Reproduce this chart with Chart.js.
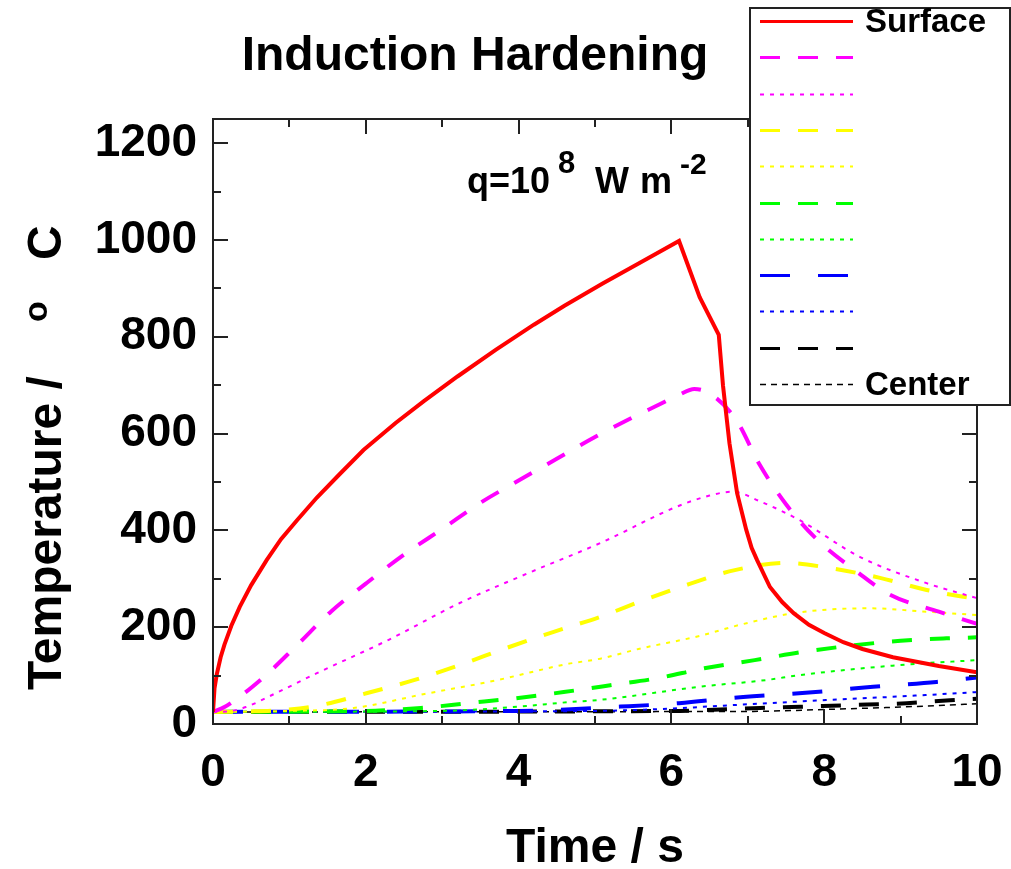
<!DOCTYPE html>
<html><head><meta charset="utf-8">
<script src="https://cdn.jsdelivr.net/npm/chart.js@4/dist/chart.umd.min.js"></script>
<style>html,body{margin:0;padding:0;background:#fff;}canvas{display:block;}</style>
</head><body>
<canvas id="c" width="1011" height="869"></canvas>
<script>
// ---- data (time in s, temperature in °C) ----
const chartTitle = "Induction Hardening";
const xTickValues = [0, 2, 4, 6, 8, 10];
const yTickValues = [0, 200, 400, 600, 800, 1000, 1200];
const legendLabels = ["Surface", "", "", "", "", "", "", "", "", "", "Center"];

const tSurface = [0, 0.02, 0.05, 0.1, 0.15, 0.24, 0.35, 0.5, 0.7, 0.89, 1.1, 1.36, 1.65, 1.97, 2.39, 2.76, 3.2, 3.7, 4.2, 4.6, 5.1, 5.6, 6.1, 6.37, 6.62, 6.675, 6.76, 6.86, 6.98, 7.05, 7.12, 7.29, 7.45, 7.6, 7.8, 8.0, 8.25, 8.5, 8.9, 9.5, 10];
const ySurface = [25, 74, 103, 138, 164, 203, 242, 287, 338, 382, 421, 468, 515, 566, 622, 667, 718, 773, 825, 864, 910, 954, 998, 882, 804, 700, 580, 477, 401, 364, 339, 283, 252, 229, 205, 188, 169, 155, 138, 120, 107];

const tMagDash = [0, 0.15, 0.65, 1.1, 1.55, 2.0, 2.5, 3.0, 3.5, 4.0, 4.5, 5.0, 5.5, 5.8, 6.1, 6.3, 6.5, 6.85, 7.15, 7.5, 7.9, 8.45, 8.85, 9.5, 10];
const yMagDash = [25, 35, 95, 163, 233, 290, 350, 403, 457, 503, 548, 593, 634, 657, 680, 692, 683, 628, 537, 454, 382, 312, 268, 232, 207];

const tMagDot = [0, 0.2, 0.43, 0.8, 1.36, 2.3, 3.23, 4.16, 5.1, 6.04, 6.5, 6.8, 7.16, 7.68, 8.47, 9.34, 10];
const yMagDot = [25, 26, 35, 62, 105, 174, 250, 314, 376, 447, 472, 480, 460, 421, 345, 291, 260];

const tYelDash = [0, 0.5, 1.0, 1.41, 2.02, 2.64, 3.23, 3.84, 4.45, 5.06, 5.64, 6.23, 6.83, 7.5, 8.08, 8.73, 9.34, 10];
const yYelDash = [25, 26, 30, 39, 64, 91, 122, 157, 190, 221, 256, 289, 318, 333, 322, 302, 277, 258];

const tYelDot = [0, 1.0, 1.84, 2.77, 3.7, 4.64, 5.07, 5.57, 6.37, 6.9, 7.6, 8.1, 8.6, 9.34, 10];
const yYelDot = [25, 27, 33, 62, 90, 124, 135, 155, 182, 205, 229, 237, 239, 232, 225];

const tGrnDash = [0, 2.0, 2.72, 3.33, 3.95, 4.59, 5.2, 5.83, 6.43, 7.09, 7.68, 8.3, 9.0, 9.6, 10];
const yGrnDash = [25, 27, 33, 43, 53, 66, 80, 95, 115, 132, 148, 161, 172, 177, 179];

const tGrnDot = [0, 3.0, 4.0, 4.64, 5.07, 6.37, 7.25, 7.68, 9.0, 10];
const yGrnDot = [25, 27, 36, 45, 50, 77, 91, 101, 122, 132];

const tBluDash = [0, 4.0, 5.33, 6.1, 6.94, 7.8, 8.64, 9.47, 10];
const yBluDash = [25, 27, 36, 43, 56, 65, 77, 87, 96];

const tBluDot = [0, 5.0, 6.0, 6.8, 8.1, 9.0, 10];
const yBluDot = [25, 27, 32, 39, 50, 57, 66];

const tBlkDash = [0, 6.0, 7.16, 8.34, 9.08, 9.65, 10];
const yBlkDash = [25, 27, 33, 39, 43, 49, 52];

const tCenter = [0, 7.0, 8.0, 9.0, 10];
const yCenter = [25, 26, 30, 35, 42];

function pts(ts, ys) { return ts.map((t, i) => ({ x: t, y: ys[i] })); }

const FONT = "'Liberation Sans', Arial, Helvetica, sans-serif";
Chart.defaults.font.family = FONT;

const DASH = [20, 18], DASH_B = [30, 28], DOT = [4, 6], CEN = [6, 5];

function ds(label, ts, ys, color, width, dash, smooth) {
  return {
    label: label, data: pts(ts, ys), borderColor: color, backgroundColor: color,
    borderWidth: width, borderDash: dash, pointRadius: 0, fill: false,
    tension: 0, cubicInterpolationMode: smooth ? 'monotone' : 'default'
  };
}

const datasets = [
  ds(legendLabels[0], tSurface, ySurface, '#ff0000', 4, [], false),
  ds(legendLabels[1], tMagDash, yMagDash, '#ff00ff', 4, DASH, true),
  ds(legendLabels[2], tMagDot, yMagDot, '#ff00ff', 2, DOT, true),
  ds(legendLabels[3], tYelDash, yYelDash, '#ffff00', 4, DASH, true),
  ds(legendLabels[4], tYelDot, yYelDot, '#ffff00', 2, DOT, true),
  ds(legendLabels[5], tGrnDash, yGrnDash, '#00ff00', 4, DASH, true),
  ds(legendLabels[6], tGrnDot, yGrnDot, '#00ff00', 2, DOT, true),
  ds(legendLabels[7], tBluDash, yBluDash, '#0000ff', 4, DASH_B, true),
  ds(legendLabels[8], tBluDot, yBluDot, '#0000ff', 2, DOT, true),
  ds(legendLabels[9], tBlkDash, yBlkDash, '#000000', 4, DASH, true),
  ds(legendLabels[10], tCenter, yCenter, '#000000', 1.5, CEN, true)
];

const decor = {
  id: 'decor',
  afterDraw(chart) {
    const ctx = chart.ctx, a = chart.chartArea;
    const xs = chart.scales.x, ys = chart.scales.y;
    ctx.save();
    // frame
    ctx.strokeStyle = '#222'; ctx.lineWidth = 2; ctx.setLineDash([]);
    ctx.strokeRect(a.left, a.top, a.right - a.left, a.bottom - a.top);
    // inward ticks on all four sides
    ctx.beginPath();
    for (let v = 0; v <= 10; v += 1) {
      const px = Math.round(xs.getPixelForValue(v));
      const L = (v % 2 === 0) ? 15 : 8;
      ctx.moveTo(px, a.bottom); ctx.lineTo(px, a.bottom - L);
      ctx.moveTo(px, a.top); ctx.lineTo(px, a.top + L);
    }
    for (let v = 0; v <= 1200; v += 100) {
      const py = Math.round(ys.getPixelForValue(v));
      const L = (v % 200 === 0) ? 15 : 8;
      ctx.moveTo(a.left, py); ctx.lineTo(a.left + L, py);
      ctx.moveTo(a.right, py); ctx.lineTo(a.right - L, py);
    }
    ctx.stroke();

    ctx.fillStyle = '#000';
    // title
    ctx.font = 'bold 48px ' + FONT;
    ctx.textAlign = 'center'; ctx.textBaseline = 'alphabetic';
    ctx.fillText(chartTitle, 475, 70);
    // x title
    ctx.fillText('Time / s', 595, 862);
    // y title (rotated)
    ctx.save();
    ctx.translate(61, 690); ctx.rotate(-Math.PI / 2);
    ctx.textAlign = 'left';
    ctx.font = 'bold 48px ' + FONT;
    ctx.fillText('Temperature /', 0, 0);
    ctx.font = 'bold 34px ' + FONT;
    ctx.fillText('o', 368, -14);
    ctx.font = 'bold 48px ' + FONT;
    ctx.fillText('C', 430, 0);
    ctx.restore();
    // annotation q=10^8 W m^-2
    ctx.textAlign = 'left';
    ctx.font = 'bold 36px ' + FONT;
    ctx.fillText('q=10', 467, 193);
    ctx.font = 'bold 31px ' + FONT;
    ctx.fillText('8', 558, 173);
    ctx.font = 'bold 36px ' + FONT;
    ctx.fillText('W', 595, 193);
    ctx.fillText('m', 640, 193);
    ctx.font = 'bold 30px ' + FONT;
    ctx.fillText('-2', 680, 174);

    // legend box
    const bx = 750, by = 8, bw = 260, bh = 397;
    ctx.fillStyle = '#fff';
    ctx.fillRect(bx, by, bw, bh);
    ctx.strokeStyle = '#222'; ctx.lineWidth = 2;
    ctx.strokeRect(bx, by, bw, bh);
    const rowY0 = 21, rowStep = 36.3;
    chart.data.datasets.forEach((d, i) => {
      const yy = Math.round(rowY0 + i * rowStep) + 0.5;
      ctx.beginPath();
      ctx.strokeStyle = d.borderColor;
      ctx.lineWidth = Math.min(d.borderWidth, 3);
      ctx.setLineDash(d.borderDash || []);
      ctx.lineDashOffset = 0;
      ctx.moveTo(760, yy); ctx.lineTo(853, yy);
      ctx.stroke();
      if (d.label) {
        ctx.setLineDash([]);
        ctx.fillStyle = '#000';
        ctx.font = 'bold 33px ' + FONT;
        ctx.textAlign = 'left'; ctx.textBaseline = 'middle';
        ctx.fillText(d.label, 865, yy + 1);
      }
    });
    ctx.restore();
  }
};

new Chart(document.getElementById('c'), {
  type: 'line',
  data: { datasets: datasets },
  options: {
    responsive: false, animation: false, devicePixelRatio: 1,
    layout: { padding: { top: 119, right: 34, left: 0, bottom: 0 } },
    plugins: { legend: { display: false }, title: { display: false }, tooltip: { enabled: false } },
    scales: {
      x: {
        type: 'linear', min: 0, max: 10,
        border: { display: false },
        grid: { display: false, drawTicks: false },
        afterBuildTicks: (s) => { s.ticks = xTickValues.map(v => ({ value: v })); },
        afterFit: (s) => { s.height = 145; s.paddingLeft = 0; s.paddingRight = 0; },
        ticks: { color: '#000', font: { size: 46, weight: 'bold' }, padding: 22, maxRotation: 0, autoSkip: false,
                 callback: (v) => String(v) }
      },
      y: {
        type: 'linear', min: 0, max: 1250,
        border: { display: false },
        grid: { display: false, drawTicks: false },
        afterBuildTicks: (s) => { s.ticks = yTickValues.map(v => ({ value: v })); },
        afterFit: (s) => { s.width = 213; s.paddingTop = 0; s.paddingBottom = 0; },
        ticks: { color: '#000', font: { size: 46, weight: 'bold' }, padding: 16, autoSkip: false,
                 callback: (v) => String(v) }
      }
    }
  },
  plugins: [decor]
});
</script>
</body></html>
